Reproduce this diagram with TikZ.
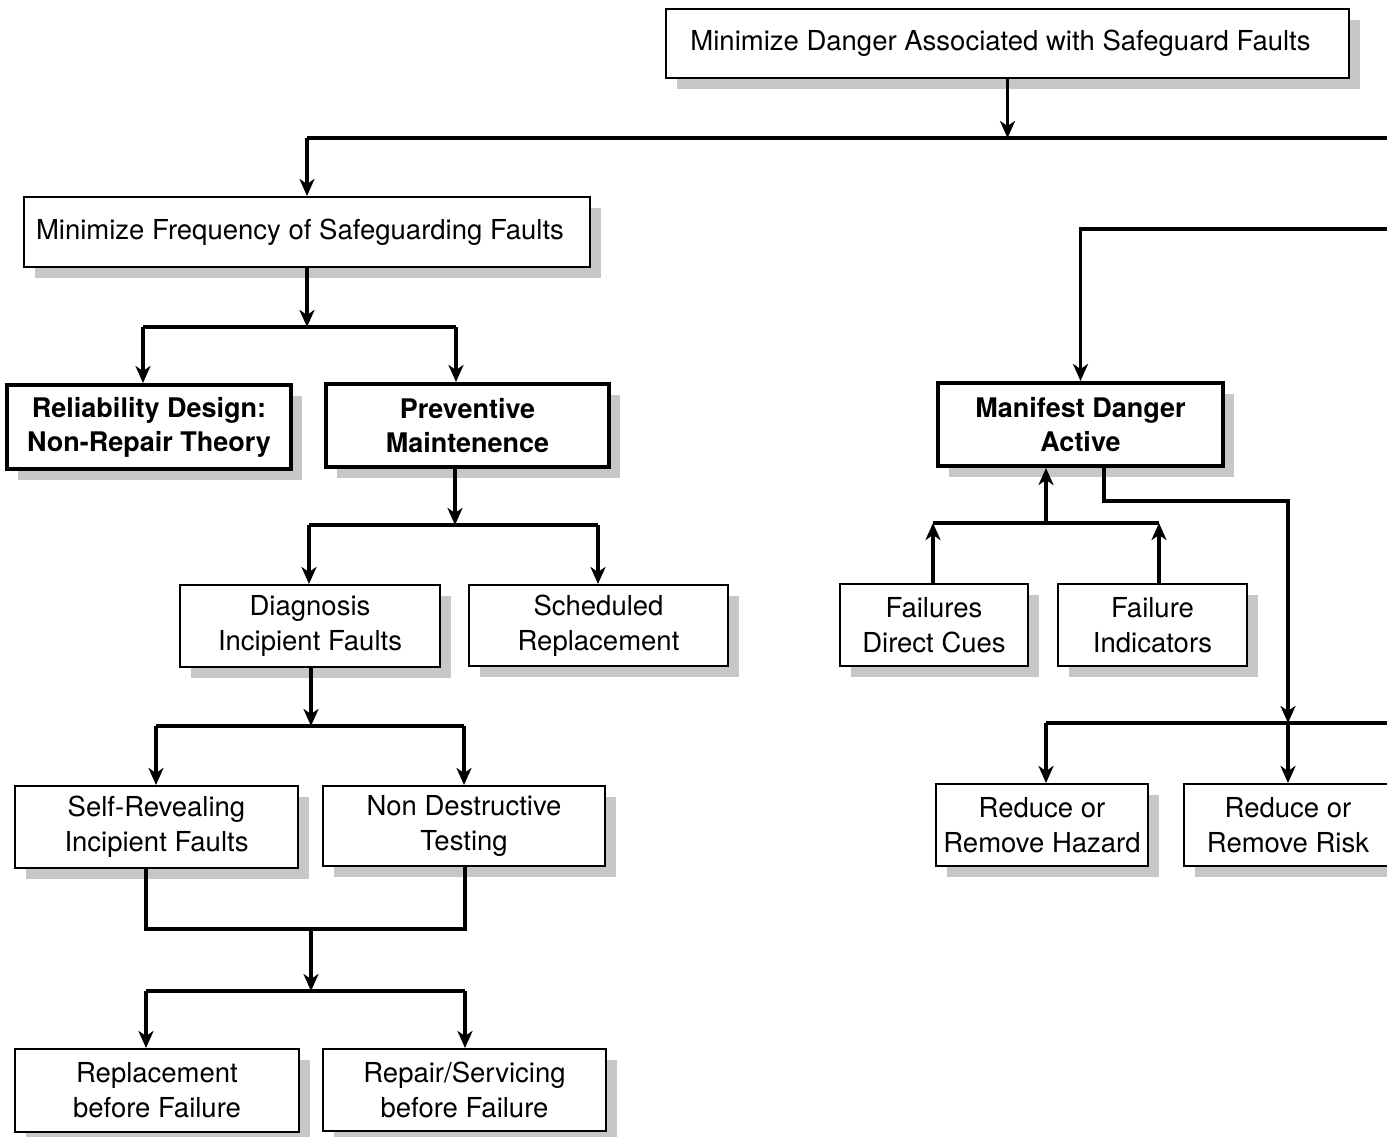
\documentclass[tikz,border=0pt]{standalone}
\usepackage{fontspec}
\setmainfont{TeX Gyre Heros}
\usetikzlibrary{arrows.meta,shadows}
\begin{document}
\begin{tikzpicture}[x=1pt,y=-1pt,
  box/.style={draw,line width=2pt,fill=white,rectangle,inner sep=0pt,align=center,
    font=\fontsize{27.5}{35}\selectfont,
    drop shadow={shadow xshift=11pt,shadow yshift=-11pt,fill=black!22,opacity=1}},
  boldbox/.style={box,line width=4pt,font=\fontsize{27}{34}\selectfont\bfseries},
  conn/.style={line width=3.2pt},
  arr/.style={conn,-{Stealth[length=17pt,width=15pt,inset=5pt]}}]
\useasboundingbox (0,0) rectangle (1387,1137);
\clip (0,0) rectangle (1387,1137);
% nodes
\node[box,minimum width=683pt,minimum height=69pt] (top) at (1007.5,43.5) {\hspace*{-14pt}Minimize Danger Associated with Safeguard Faults};
\node[box,minimum width=566pt,minimum height=70pt] (freq) at (307,232) {\hspace*{-14pt}Minimize Frequency of Safeguarding Faults};
\node[boldbox,minimum width=284pt,minimum height=84pt] (rel) at (149,427) {Reliability Design:\\Non-Repair Theory};
\node[boldbox,minimum width=283pt,minimum height=83pt] (prev) at (467.5,425.5) {Preventive\\Maintenence};
\node[box,minimum width=260pt,minimum height=82pt] (diag) at (310,626) {Diagnosis\\Incipient Faults};
\node[box,minimum width=259pt,minimum height=81pt] (sched) at (598.5,625.5) {Scheduled\\Replacement};
\node[box,minimum width=283pt,minimum height=82pt] (self) at (156.5,827) {Self-Revealing\\Incipient Faults};
\node[box,minimum width=282pt,minimum height=80pt] (ndt) at (464,826) {Non Destructive\\Testing};
\node[box,minimum width=284pt,minimum height=83pt] (repl) at (157,1090.5) {Replacement\\before Failure};
\node[box,minimum width=283pt,minimum height=82pt] (repair) at (464.5,1090) {Repair/Servicing\\before Failure};
\node[boldbox,minimum width=285pt,minimum height=83pt] (manifest) at (1080.5,424.5) {Manifest Danger\\Active};
\node[box,minimum width=188pt,minimum height=82pt] (fdc) at (934,625) {Failures\\Direct Cues};
\node[box,minimum width=189pt,minimum height=82pt] (find) at (1152.5,625) {Failure\\Indicators};
\node[box,minimum width=212pt,minimum height=82pt] (hazard) at (1042,825) {Reduce or\\Remove Hazard};
\node[box,minimum width=224pt,minimum height=82pt,align=center] (risk) at (1296,825) {\hspace*{-16pt}Reduce or\\\hspace*{-16pt}Remove Risk};
% bus coordinates
\coordinate (b1) at (1007.5,138);
\coordinate (e1) at (1400,138);
\coordinate (e2) at (1400,229);
\coordinate (f1) at (307,327);
\coordinate (f2) at (143,327);
\coordinate (f3) at (456,327);
\coordinate (p1) at (455,525);
\coordinate (p2) at (309,525);
\coordinate (p3) at (598,525);
\coordinate (d1) at (311,726);
\coordinate (d2) at (156,726);
\coordinate (d3) at (464,726);
\coordinate (s1) at (146,929);
\coordinate (s2) at (465,929);
\coordinate (s3) at (311,929);
\coordinate (r1) at (311,991);
\coordinate (r2) at (146,991);
\coordinate (r3) at (465,991);
\coordinate (m1) at (1046,523);
\coordinate (m2) at (933,523);
\coordinate (m3) at (1159,523);
\coordinate (k0) at (1104,501);
\coordinate (k1) at (1288,501);
\coordinate (k2) at (1288,723);
\coordinate (k3) at (1046,723);
\coordinate (e3) at (1400,723);
% connectors
\draw[arr] (top.south) -- (b1);
\draw[conn] (freq.north |- b1) -- (e1);
\draw[arr] (freq.north |- b1) -- (freq.north);
\draw[arr] (e2) -| (manifest.north);
\draw[arr] (freq.south) -- (f1);
\draw[conn] (f2) -- (f3);
\draw[arr] (f2) -- (f2 |- rel.north);
\draw[arr] (f3) -- (f3 |- prev.north);
\draw[arr] (p1 |- prev.south) -- (p1);
\draw[conn] (p2) -- (p3);
\draw[arr] (p2) -- (p2 |- diag.north);
\draw[arr] (p3) -- (p3 |- sched.north);
\draw[arr] (d1 |- diag.south) -- (d1);
\draw[conn] (d2) -- (d3);
\draw[arr] (d2) -- (d2 |- self.north);
\draw[arr] (d3) -- (d3 |- ndt.north);
\draw[conn] (s1 |- self.south) -- (s1) -- (s2) -- (s2 |- ndt.south);
\draw[arr] (s3) -- (r1);
\draw[conn] (r2) -- (r3);
\draw[arr] (r2) -- (r2 |- repl.north);
\draw[arr] (r3) -- (r3 |- repair.north);
\draw[conn] (m2) -- (m3);
\draw[arr] (m2 |- fdc.north) -- (m2);
\draw[arr] (m3 |- find.north) -- (m3);
\draw[arr] (m1) -- (m1 |- manifest.south);
\draw[arr] (k0 |- manifest.south) -- (k0) -- (k1) -- (k2);
\draw[conn] (k3) -- (e3);
\draw[arr] (k3) -- (k3 |- hazard.north);
\draw[arr] (k2) -- (k2 |- risk.north);
\end{tikzpicture}
\end{document}
